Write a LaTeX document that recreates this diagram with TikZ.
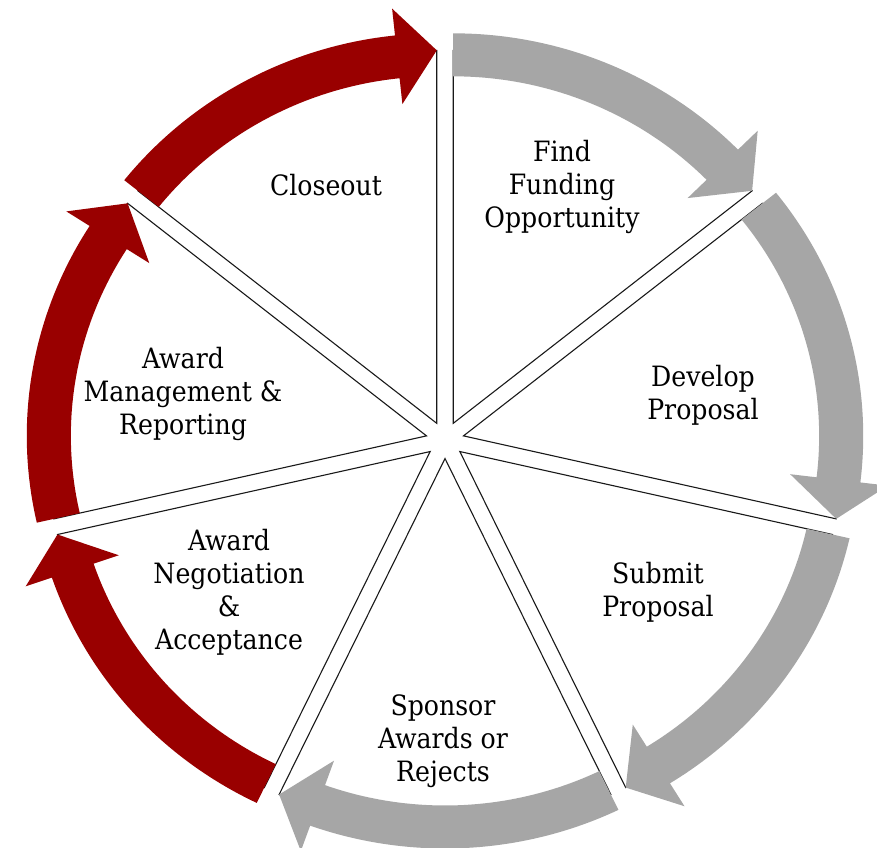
\documentclass[tikz,border=0pt]{standalone}
\usepackage{fontspec}
\setmainfont{DejaVu Serif}[FakeStretch=0.9]
\definecolor{arrgray}{HTML}{A6A6A6}
\definecolor{arrred}{HTML}{990000}
\tikzset{
  wedge/.style={draw=black!90, line width=1.1pt, fill=white, line join=miter},
  steptext/.style={font=\fontsize{28}{33}\selectfont, align=center, text=black, inner sep=0pt}
}
\begin{document}
\begin{tikzpicture}[x=1pt,y=1pt]
\useasboundingbox (0,0) rectangle (877,847);
\begin{scope}[shift={(445,407)}, xscale=1.025]
  % wedges
  \foreach \k in {0,...,6}{
    \pgfmathsetmacro\a{90-\k*360/7}
    \pgfmathsetmacro\b{\a-360/14}
    \pgfmathsetmacro\e{\a-360/7}
    \begin{scope}[shift={(\b:18.5)}]
      \draw[wedge] (0,0) -- (\a:373) arc[start angle=\a, end angle=\e, radius=373] -- cycle;
    \end{scope}
  }
  % arrows
  \foreach \k/\col in {0/arrgray,1/arrgray,2/arrgray,3/arrgray,4/arrred,5/arrred,6/arrred}{
    \pgfmathsetmacro\a{90-\k*360/7}
    \pgfmathsetmacro\b{\a-360/14}
    \pgfmathsetmacro\e{\a-360/7}
    \pgfmathsetmacro\h{\e+6}
    \begin{scope}[shift={(\b:18.5)}]
      \fill[\col] (\a:347) arc[start angle=\a, end angle=\h, radius=347]
        -- (\h:321) -- (\e:373) -- (\h:417) -- (\h:390)
        arc[start angle=\h, end angle=\a, radius=390] -- cycle;
    \end{scope}
  }
\end{scope}
\node[steptext] (closeout) at (326,662) {Closeout};
\node[steptext] (find) at (562,660) {Find\\Funding\\Opportunity};
\node[steptext] (develop) at (703,452) {Develop\\Proposal};
\node[steptext] (submit) at (658,255) {Submit\\Proposal};
\node[steptext] (sponsor) at (443,106) {Sponsor\\Awards or\\Rejects};
\node[steptext] (negotiation) at (229,255) {Award\\Negotiation\\\&\\Acceptance};
\node[steptext] (management) at (183,453) {Award\\Management \&\\Reporting};
\end{tikzpicture}
\end{document}
